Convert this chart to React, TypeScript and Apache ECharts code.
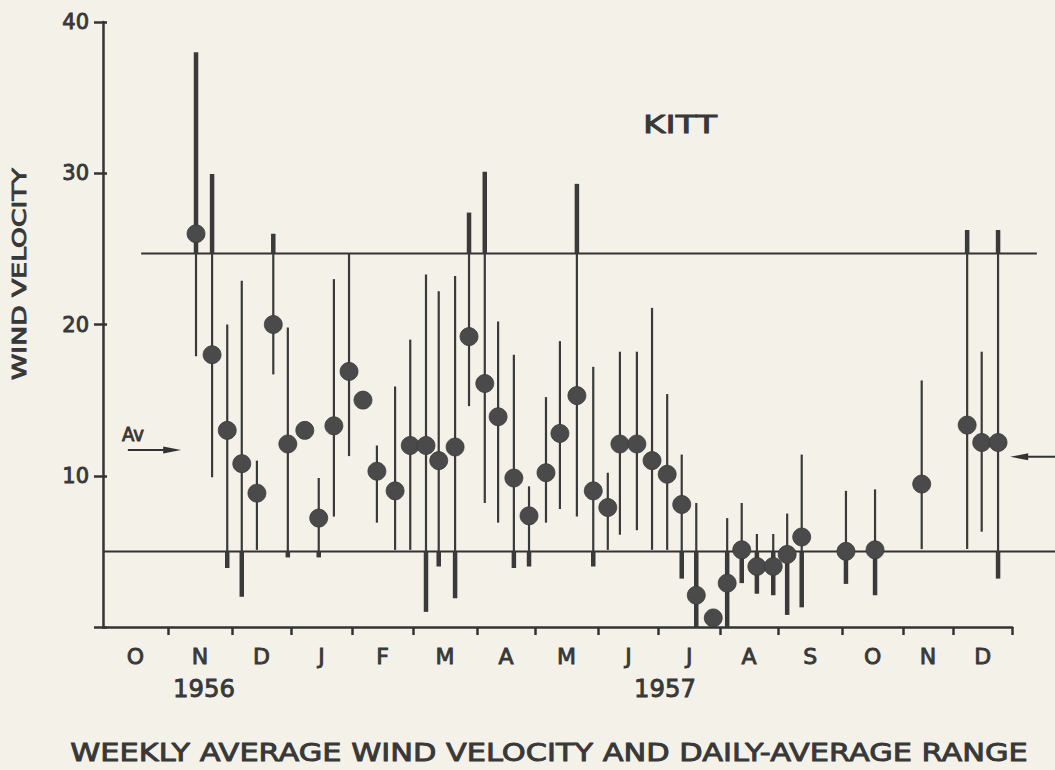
import React, { useEffect, useRef } from "react";
import * as echarts from "echarts";

// ---- data (x in months from 1 Oct 1956) ----
const monthLetters = ["O", "N", "D", "J", "F", "M", "A", "M", "J", "J", "A", "S", "O", "N", "D"];
const monthEnds = [1.07, 2.13, 3.1, 4.11, 5.12, 6.17, 7.13, 8.17, 9.17, 10.18, 11.14, 12.2, 13.2, 14.03, 15.0];
const yTicks = [10, 20, 30, 40];

const weekX = [1.535, 1.8, 2.05, 2.29, 2.54, 2.81, 3.05, 3.33, 3.56, 3.81, 4.06, 4.29, 4.52, 4.82, 5.07, 5.33, 5.54, 5.81, 6.04, 6.3, 6.52, 6.78, 7.03, 7.31, 7.54, 7.82, 8.09, 8.33, 8.53, 8.81, 9.06, 9.31, 9.55, 9.79, 10.07, 10.3, 10.54, 10.79, 11.06, 11.29, 11.53, 12.26, 12.74, 13.51, 14.26, 14.5, 14.77];
const weeklyAvg = [26.0, 18.0, 13.0, 10.8, 8.85, 20.0, 12.1, 13.0, 7.2, 13.3, 16.9, 15.0, 10.3, 9.0, 12.0, 12.0, 11.0, 11.9, 19.2, 16.1, 13.9, 9.85, 7.35, 10.2, 12.8, 15.3, 9.0, 7.9, 12.1, 12.1, 11.0, 10.1, 8.1, 2.1, 0.6, 2.9, 5.1, 4.0, 4.0, 4.8, 5.95, 5.0, 5.1, 9.45, 13.35, 12.2, 12.2];
const rangeHigh = [38.0, 29.95, 20.0, 22.9, 11.0, 26.0, 19.8, null, 9.85, 23.0, 24.7, null, 12.0, 15.9, 19.0, 23.3, 22.2, 23.2, 27.4, 30.1, 20.2, 18.0, 9.3, 15.2, 18.9, 29.3, 17.2, 10.2, 18.2, 18.2, 21.1, 15.4, 11.4, 8.2, null, 7.2, 8.2, 6.15, 6.15, 7.5, 11.4, 9.0, 9.1, 16.3, 26.25, 18.2, 26.25];
const rangeLow = [17.9, 9.9, 3.9, 2.0, 5.1, 16.7, 4.6, null, 4.6, 7.3, 11.3, null, 6.9, 5.1, 5.1, 1.0, 4.0, 1.9, 14.6, 8.2, 6.9, 3.9, 4.0, 6.9, 7.8, 7.3, 4.0, 5.1, 6.1, 6.4, 5.1, 5.1, 3.2, 0, null, 0, 2.9, 2.2, 2.1, 0.8, 1.3, 2.85, 2.1, 5.15, 5.15, 6.3, 3.2];

const upperLimit = 24.7;
const lowerLimit = 5.0;
const upperLineSpan = [0.63, 15.41];
const lowerLineSpan = [0, 15.71];
const avgLeft = 11.7;
const avgRight = 11.25;
const avgLeftSpan = [0.41, 1.29];
const avgRightSpan = [15.71, 14.97];

const FONT = "DejaVu Sans";
const INK = "#333333";
const TEXT = "#383838";
const BG = "#f4f1e9";

function measure(text: string, size: number): number {
  const ctx = document.createElement("canvas").getContext("2d");
  if (!ctx) return text.length * size * 0.6;
  ctx.font = `${size}px "${FONT}"`;
  return ctx.measureText(text).width;
}

function fitText(text: string, cx: number, cy: number, width: number, size: number, rotation = 0) {
  const w = measure(text, size);
  return {
    type: "text",
    x: cx,
    y: cy,
    rotation,
    scaleX: width / w,
    z: 50,
    style: {
      text,
      fontSize: size,
      fontFamily: FONT,
      fill: TEXT,
      stroke: TEXT,
      lineWidth: 0.9,
      align: "center",
      verticalAlign: "middle",
    },
  };
}

export default function App() {
  const ref = useRef<HTMLDivElement>(null);

  useEffect(() => {
    if (!ref.current) return;
    const chart = echarts.init(ref.current, undefined, { renderer: "svg" });

    const monthMids = monthEnds.map((e, i) => ((i === 0 ? 0 : monthEnds[i - 1]) + e) / 2);
    const dots = weekX.map((x, i) => [x, weeklyAvg[i]]);
    const ranges: number[][] = [];
    weekX.forEach((x, i) => {
      const lo = rangeLow[i];
      const hi = rangeHigh[i];
      if (lo !== null && hi !== null) ranges.push([x, lo as number, hi as number]);
    });

    const labelStyle = {
      fontFamily: FONT,
      color: TEXT,
      textBorderColor: TEXT,
      textBorderWidth: 0.9,
    };

    const option: any = {
      animation: false,
      backgroundColor: BG,
      grid: { left: 103, right: 43, top: 22, bottom: 143 },
      xAxis: {
        type: "value",
        min: 0,
        max: 15,
        axisLine: { show: true, lineStyle: { color: INK, width: 2.5 } },
        axisTick: { show: true, customValues: monthEnds, length: 8, lineStyle: { color: INK, width: 2.5 } },
        axisLabel: {
          ...labelStyle,
          customValues: monthMids,
          margin: 18,
          fontSize: 22,
          formatter: (v: number) => {
            let best = 0;
            monthMids.forEach((m, i) => {
              if (Math.abs(m - v) < Math.abs(monthMids[best] - v)) best = i;
            });
            return monthLetters[best];
          },
        },
        splitLine: { show: false },
      },
      yAxis: [
        {
          type: "value",
          min: 0,
          max: 40,
          interval: 10,
          axisLine: { show: true, lineStyle: { color: INK, width: 2.5 } },
          axisTick: { show: true, length: 9, lineStyle: { color: INK, width: 2.5 } },
          axisLabel: {
            ...labelStyle,
            margin: 14,
            fontSize: 21,
            formatter: (v: number) => (yTicks.includes(v) ? String(v) : ""),
          },
          splitLine: { show: false },
        },
        {
          type: "value",
          min: 0,
          max: 40,
          interval: 10,
          position: "left",
          axisLine: { show: false },
          axisTick: { show: true, inside: true, length: 4, lineStyle: { color: INK, width: 2.5 } },
          axisLabel: { show: false },
          splitLine: { show: false },
        },
      ],
      series: [
        {
          type: "custom",
          name: "limits",
          clip: false,
          z: 2,
          data: [
            [upperLineSpan[0], upperLineSpan[1], upperLimit],
            [lowerLineSpan[0], lowerLineSpan[1], lowerLimit],
          ],
          renderItem: (_p: any, api: any) => {
            const a = api.coord([api.value(0), api.value(2)]);
            const b = api.coord([api.value(1), api.value(2)]);
            return {
              type: "line",
              shape: { x1: a[0], y1: a[1], x2: b[0], y2: b[1] },
              style: { stroke: INK, lineWidth: 2 },
            };
          },
        },
        {
          type: "custom",
          name: "daily range",
          clip: false,
          z: 3,
          data: ranges,
          renderItem: (_p: any, api: any) => {
            const x = api.value(0);
            const lo = api.value(1);
            const hi = api.value(2);
            const pieces = [
              [lo, Math.min(hi, lowerLimit), 4.5],
              [Math.max(lo, lowerLimit), Math.min(hi, upperLimit), 2.2],
              [Math.max(lo, upperLimit), hi, 4.5],
            ].filter((p) => p[1] > p[0]);
            return {
              type: "group",
              children: pieces.map((p) => {
                const a = api.coord([x, p[0]]);
                const b = api.coord([x, p[1]]);
                return {
                  type: "line",
                  shape: { x1: a[0], y1: a[1], x2: b[0], y2: b[1] },
                  style: { stroke: "#3a3a3a", lineWidth: p[2] },
                };
              }),
            };
          },
        },
        {
          type: "custom",
          name: "average arrows",
          clip: false,
          z: 3,
          data: [
            [avgLeftSpan[0], avgLeftSpan[1], avgLeft],
            [avgRightSpan[0], avgRightSpan[1], avgRight],
          ],
          renderItem: (_p: any, api: any) => {
            const a = api.coord([api.value(0), api.value(2)]);
            const b = api.coord([api.value(1), api.value(2)]);
            const dir = b[0] > a[0] ? 1 : -1;
            const len = 18;
            return {
              type: "group",
              children: [
                {
                  type: "line",
                  shape: { x1: a[0], y1: a[1], x2: b[0] - dir * len * 0.5, y2: b[1] },
                  style: { stroke: INK, lineWidth: 2 },
                },
                {
                  type: "polygon",
                  shape: { points: [[b[0], b[1]], [b[0] - dir * len, b[1] - 3.5], [b[0] - dir * len, b[1] + 3.5]] },
                  style: { fill: INK },
                },
              ],
            };
          },
        },
        {
          type: "scatter",
          name: "weekly average",
          z: 5,
          symbol: "circle",
          symbolSize: 18,
          data: dots,
          itemStyle: { color: "#4a4a4a", borderColor: "#3a3a3a", borderWidth: 0.8, opacity: 1 },
        },
      ],
      graphic: [
        fitText("WEEKLY AVERAGE WIND VELOCITY AND DAILY-AVERAGE RANGE", 549, 752, 958, 25),
        fitText("WIND VELOCITY", 19, 274, 212, 19, Math.PI / 2),
        fitText("KITT", 680, 124, 74, 25),
        fitText("1956", 204, 688, 62, 25),
        fitText("1957", 665, 688, 62, 25),
        fitText("Av", 133, 434, 22, 19),
      ],
    };

    chart.setOption(option);
    return () => chart.dispose();
  }, []);

  return (
    <div
      ref={ref}
      style={{ position: "fixed", left: 0, top: 0, width: 1055, height: 770, background: BG }}
    />
  );
}
